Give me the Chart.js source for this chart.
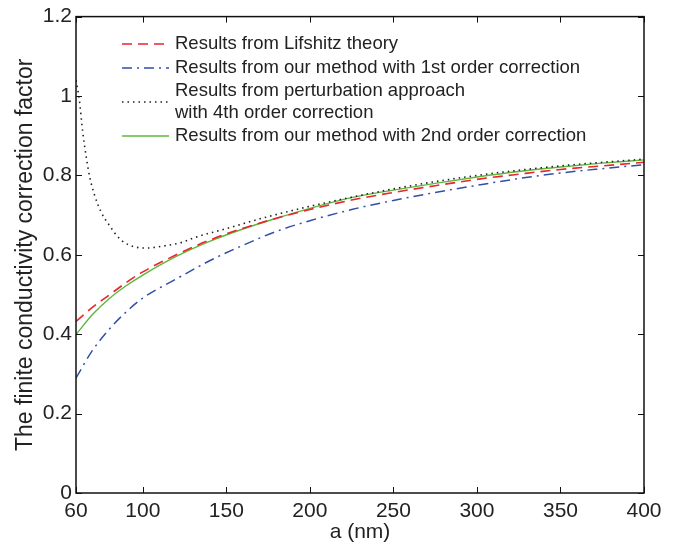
<!DOCTYPE html>
<html>
<head>
<meta charset="utf-8">
<script src="https://cdn.jsdelivr.net/npm/chart.js@4.4.1/dist/chart.umd.min.js"></script>
<style>
  html, body { margin: 0; padding: 0; background: #fff; }
  #wrap { width: 681px; height: 548px; }
</style>
</head>
<body>
<div id="wrap"><canvas id="chart"></canvas></div>
<script>
// distance a (nm) shared by the three smooth curves
const aValues = [60, 70, 80, 90, 100, 120, 140, 160, 180, 200, 225, 250, 275, 300, 325, 350, 375, 400];

const lifshitz = [0.432, 0.468, 0.499, 0.530, 0.557, 0.600, 0.637, 0.667, 0.692, 0.714, 0.738, 0.757, 0.774, 0.790, 0.803, 0.815, 0.824, 0.833];
const firstOrder = [0.290, 0.360, 0.413, 0.456, 0.491, 0.539, 0.585, 0.624, 0.659, 0.686, 0.714, 0.737, 0.757, 0.775, 0.792, 0.806, 0.817, 0.827];
const secondOrder = [0.399, 0.450, 0.490, 0.522, 0.549, 0.596, 0.634, 0.665, 0.692, 0.717, 0.744, 0.763, 0.780, 0.796, 0.810, 0.821, 0.831, 0.839];

// perturbation curve has its own sampling (steep near 60 nm)
const aPert = [60, 62, 64, 66, 68, 71, 75, 80, 86, 92, 102, 112, 124, 130, 150, 174, 202, 250, 300, 350, 400];
const perturbation = [1.04, 0.99, 0.91, 0.85, 0.80, 0.752, 0.708, 0.674, 0.641, 0.624, 0.617, 0.622, 0.632, 0.642, 0.666, 0.695, 0.724, 0.766, 0.800, 0.824, 0.841];

const xTicks = [60, 100, 150, 200, 250, 300, 350, 400];
const yTicks = [0, 0.2, 0.4, 0.6, 0.8, 1, 1.2];

const seriesLabels = [
    'Results from Lifshitz theory',
    'Results from our method with 1st order correction',
    ['Results from perturbation approach', 'with 4th order correction'],
    'Results from our method with 2nd order correction'
];

const toPoints = (xs, ys) => xs.map((x, i) => ({ x: x, y: ys[i] }));

const FONT = '"Liberation Sans", Arial, Helvetica, sans-serif';
const TXT = '#222';

// box around the plot plus inward MATLAB-style ticks
const frameTicks = {
    id: 'frameTicks',
    afterDraw(chart) {
        const { ctx, chartArea: a, scales } = chart;
        ctx.save();
        ctx.strokeStyle = '#111';
        ctx.lineWidth = 1.5;
        ctx.strokeRect(a.left, a.top, a.right - a.left, a.bottom - a.top);
        ctx.lineWidth = 1;
        const len = 6;
        ctx.beginPath();
        xTicks.forEach(v => {
            const px = Math.round(scales.x.getPixelForValue(v)) + 0.5;
            ctx.moveTo(px, a.bottom); ctx.lineTo(px, a.bottom - len);
            ctx.moveTo(px, a.top); ctx.lineTo(px, a.top + len);
        });
        yTicks.forEach(v => {
            const py = Math.round(scales.y.getPixelForValue(v)) + 0.5;
            ctx.moveTo(a.left, py); ctx.lineTo(a.left + len, py);
            ctx.moveTo(a.right, py); ctx.lineTo(a.right - len, py);
        });
        ctx.stroke();
        ctx.restore();
    }
};

// legend inside the axes, no box, supports two-line labels
const innerLegend = {
    id: 'innerLegend',
    afterDraw(chart) {
        const { ctx } = chart;
        const x0 = 122, x1 = 169, tx = 175;
        const rowY = [44, 68, 102, 136];
        ctx.save();
        ctx.font = '18.5px ' + FONT;
        ctx.fillStyle = TXT;
        ctx.textBaseline = 'middle';
        chart.data.datasets.forEach((ds, i) => {
            const y = rowY[i];
            ctx.strokeStyle = ds.borderColor;
            ctx.lineWidth = ds.borderWidth;
            ctx.setLineDash(ds.borderDash || []);
            ctx.beginPath();
            ctx.moveTo(x0, y); ctx.lineTo(x1, y);
            ctx.stroke();
            const lines = Array.isArray(ds.label) ? ds.label : [ds.label];
            const lh = 22;
            lines.forEach((t, k) => {
                ctx.fillText(t, tx, y + (k - (lines.length - 1) / 2) * lh);
            });
        });
        ctx.restore();
    }
};

new Chart(document.getElementById('chart'), {
    type: 'line',
    data: {
        datasets: [
            { label: seriesLabels[0], data: toPoints(aValues, lifshitz), borderColor: '#e8262b', borderWidth: 1.6, borderDash: [10, 6] },
            { label: seriesLabels[1], data: toPoints(aValues, firstOrder), borderColor: '#3050a8', borderWidth: 1.5, borderDash: [10, 5, 2, 5] },
            { label: seriesLabels[2], data: toPoints(aPert, perturbation), borderColor: '#222', borderWidth: 1.6, borderDash: [1.5, 4] },
            { label: seriesLabels[3], data: toPoints(aValues, secondOrder), borderColor: '#5cb83c', borderWidth: 1.4 }
        ]
    },
    options: {
        responsive: true,
        maintainAspectRatio: false,
        animation: false,
        layout: { padding: { top: 13, right: 37, left: 0, bottom: 0 } },
        elements: {
            point: { radius: 0 },
            line: { cubicInterpolationMode: 'monotone', fill: false }
        },
        scales: {
            x: {
                type: 'linear',
                min: 60,
                max: 400,
                afterBuildTicks: s => { s.ticks = xTicks.map(v => ({ value: v })); },
                afterFit: s => { s.height = 55; },
                grid: { display: false, drawTicks: false },
                border: { display: false },
                ticks: {
                    autoSkip: false, maxRotation: 0, padding: 6,
                    color: TXT, font: { family: FONT, size: 21 }
                },
                title: {
                    display: true, text: 'a (nm)', color: TXT,
                    font: { family: FONT, size: 21 }, padding: { top: 0, bottom: 3 }
                }
            },
            y: {
                min: 0,
                max: 1.2,
                afterBuildTicks: s => { s.ticks = yTicks.map(v => ({ value: v })); },
                afterFit: s => { s.width = 76; },
                grid: { display: false, drawTicks: false },
                border: { display: false },
                ticks: {
                    padding: 4, color: TXT, font: { family: FONT, size: 21 },
                    callback: v => String(Number(v.toFixed(1)))
                },
                title: {
                    display: true, text: 'The finite conductivity correction factor', color: TXT,
                    font: { family: FONT, size: 23 }, padding: { top: 12, bottom: 0 }
                }
            }
        },
        plugins: {
            legend: { display: false },
            tooltip: { enabled: false }
        }
    },
    plugins: [frameTicks, innerLegend]
});
</script>
</body>
</html>
